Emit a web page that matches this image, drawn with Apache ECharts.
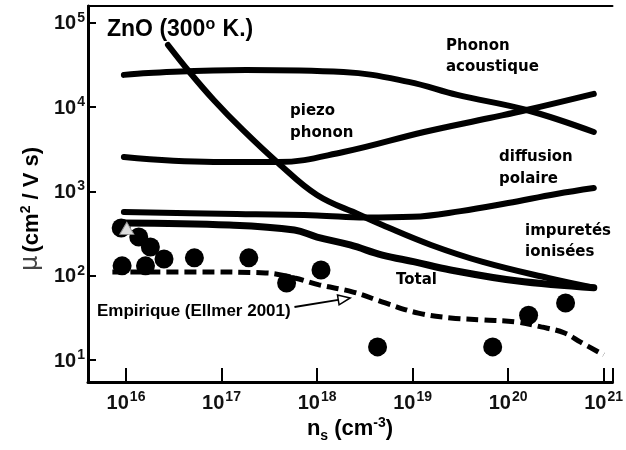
<!DOCTYPE html>
<html><head><meta charset="utf-8">
<script src="https://cdn.jsdelivr.net/npm/echarts@6/dist/echarts.min.js"></script>
<style>html,body{margin:0;padding:0;background:#fff}#c{width:626px;height:450px}</style>
</head><body><div id="c"></div>
<script>
// ---- data (n_s in cm^-3, mobility in cm2/Vs) ----
const nsAcoustic = [9.5e15, 1.72e16, 1.8e17, 1.89e18, 9.1e18, 2.94e19, 1.56e20, 7.9e20];
const muAcoustic = [24200, 25500, 27700, 26200, 20000, 14000, 9270, 5080];

const nsPiezo = [9.5e15, 8.3e16, 3.9e17, 1.89e18, 1.32e19, 6.4e19, 1.56e20, 7.9e20];
const muPiezo = [2560, 2240, 2240, 2940, 5080, 7450, 9270, 14400];

const nsPolar = [9.5e15, 1e17, 1e18, 3.2e18, 1e19, 3.2e19, 1e20, 3.2e20, 7.9e20];
const muPolar = [571, 545, 520, 490, 500, 585, 730, 935, 1100];

const nsIonized = [2.75e16, 4.71e16, 8.28e16, 1.67e17, 3.91e17, 1e18, 2.81e18, 4.83e18, 1.56e19, 5.43e19, 2.62e20, 7.9e20];
const muIonized = [54800, 25500, 12200, 5370, 2180, 908, 526, 400, 232, 146, 94, 72];

const nsTotal = [9.5e15, 1.21e17, 5.8e17, 1e18, 2.22e18, 4.83e18, 1.05e19, 2.5e19, 1.21e20, 7.9e20];
const muTotal = [423, 400, 349, 288, 232, 176, 146, 117, 87, 72];

const nsEmpirical = [7.2e15, 5.56e16, 2.88e17, 5.8e17, 1.05e18, 2.39e18, 5.18e18, 1.15e19, 2.5e19, 5.43e19, 1.21e20, 2.22e20, 3.91e20, 5.69e20, 1e21];
const muEmpirical = [111, 111, 108, 94, 78, 64, 47.5, 36, 31.6, 29.9, 28.2, 24.7, 20.9, 16.4, 11.5];

const nsMeasured = [8.9e15, 1.36e16, 1.8e16, 2.5e16, 9.1e15, 1.6e16, 5.2e16, 1.93e17, 4.8e17, 1.1e18, 4.3e18, 6.9e19, 1.64e20, 4.0e20];
const muMeasured = [369, 288, 219, 158, 131, 131, 163, 163, 82, 117, 14.3, 14.3, 34, 47.5];

const nsTriangle = [1.02e16];
const muTriangle = [365];

// arrow annotation (data coordinates): tail -> head
const arrowNs = [5.8e17, 2.22e18];
const arrowMu = [42.6, 54.5];

const xMin = 4.0e15, xMax = 1.24e21, yMin = 5.48, yMax = 1.59e5;

function pairs(xs, ys) { return xs.map((x, i) => [x, ys[i]]); }
function expLabel(v) {
  const l = Math.log10(v), r = Math.round(l);
  if (Math.abs(l - r) > 1e-6) return '';
  return '{a|10}{b|' + r + '}';
}
const LF = 'Liberation Sans';
const rich = {
  a: { fontSize: 20, fontWeight: 'bold', fontFamily: LF, color: '#111', verticalAlign: 'bottom', lineHeight: 22 },
  b: { fontSize: 14, fontWeight: 'bold', fontFamily: LF, color: '#111', verticalAlign: 'bottom', padding: [0, 0, 9, 1], lineHeight: 22 }
};
function curve(name, xs, ys, w) {
  return { name, type: 'line', data: pairs(xs, ys), showSymbol: false, smooth: 0.4,
    lineStyle: { color: '#000', width: w, cap: 'round' }, z: 3 };
}
const chart = echarts.init(document.getElementById('c'));
chart.setOption({
  animation: false,
  backgroundColor: '#fff',
  grid: { left: 88, right: 0, top: 6, bottom: 68 },
  xAxis: [{
    type: 'log', logBase: 10, min: xMin, max: xMax, position: 'bottom',
    axisLine: { lineStyle: { color: '#000', width: 3 } },
    axisTick: { inside: true, length: 14, lineStyle: { color: '#000', width: 2 } },
    splitLine: { show: false },
    axisLabel: { formatter: expLabel, rich, margin: 9, showMinLabel: true, showMaxLabel: true }
  }, {
    type: 'log', logBase: 10, min: xMin, max: xMax, position: 'top',
    axisLine: { lineStyle: { color: '#000', width: 2 } },
    axisTick: { show: false }, axisLabel: { show: false }, splitLine: { show: false }
  }],
  yAxis: {
    type: 'log', logBase: 10, min: yMin, max: yMax,
    axisLine: { lineStyle: { color: '#000', width: 3 } },
    axisTick: { inside: true, length: 8, lineStyle: { color: '#000', width: 2 } },
    splitLine: { show: false },
    axisLabel: { formatter: expLabel, rich, margin: 3 }
  },
  series: [
    curve('Phonon acoustique', nsAcoustic, muAcoustic, 6),
    curve('piezo phonon', nsPiezo, muPiezo, 6),
    curve('diffusion polaire', nsPolar, muPolar, 6),
    curve('impuretés ionisées', nsIonized, muIonized, 6),
    curve('Total', nsTotal, muTotal, 7),
    { name: 'Empirique (Ellmer 2001)', type: 'line', data: pairs(nsEmpirical, muEmpirical), showSymbol: false, smooth: 0.4,
      lineStyle: { color: '#000', width: 5, type: [12, 6], cap: 'butt' }, z: 3 },
    { name: 'mesures', type: 'scatter', data: pairs(nsMeasured, muMeasured), symbol: 'circle', symbolSize: 19,
      itemStyle: { color: '#000', opacity: 1 }, z: 4 },
    { name: 'triangle', type: 'scatter', data: pairs(nsTriangle, muTriangle), symbol: 'triangle', symbolSize: [14, 12],
      itemStyle: { color: '#ddd', borderColor: '#999', borderWidth: 1, opacity: 1 }, z: 5 }
  ]
});

const p0 = chart.convertToPixel({ xAxisIndex: 0, yAxisIndex: 0 }, [arrowNs[0], arrowMu[0]]);
const p1 = chart.convertToPixel({ xAxisIndex: 0, yAxisIndex: 0 }, [arrowNs[1], arrowMu[1]]);
const ang = Math.atan2(p1[1] - p0[1], p1[0] - p0[0]);
const hl = 12, hw = 5;
const bx = p1[0] - hl * Math.cos(ang), by = p1[1] - hl * Math.sin(ang);
const head = [p1, [bx + hw * Math.sin(ang), by - hw * Math.cos(ang)], [bx - hw * Math.sin(ang), by + hw * Math.cos(ang)]];

const DV = '"DejaVu Sans"';
function lbl(text, x, y, font) {
  return { type: 'text', x, y, z: 10, style: { text, font: font || ('bold 15px ' + DV), fill: '#000', align: 'left', verticalAlign: 'middle' } };
}
chart.setOption({
  graphic: [
    { type: 'polyline', z: 10, shape: { points: [p0, [bx, by]] }, style: { stroke: '#000', lineWidth: 2, fill: null } },
    { type: 'polygon', z: 10, shape: { points: head }, style: { stroke: '#000', lineWidth: 1.5, fill: '#fff' } },
    { type: 'text', x: 107, y: 28, z: 10, style: { text: '{t|ZnO (300}{s|o}{t| K.)}', align: 'left', verticalAlign: 'middle',
      rich: { t: { font: 'bold 23px ' + LF, fill: '#000', verticalAlign: 'bottom', lineHeight: 26 },
              s: { font: 'bold 16px ' + LF, fill: '#000', verticalAlign: 'bottom', lineHeight: 26, padding: [0, 1, 8, 0] } } } },
    lbl('Phonon', 446, 46), lbl('acoustique', 446, 67),
    lbl('piezo', 290, 111), lbl('phonon', 290, 133),
    lbl('diffusion', 499, 157), lbl('polaire', 499, 179),
    lbl('impuretés', 525, 231), lbl('ionisées', 525, 252),
    lbl('Total', 396, 280),
    lbl('Empirique (Ellmer 2001)', 97, 311, 'bold 17px ' + LF),
    { type: 'text', x: 350, y: 427, z: 10, style: { text: '{t|n}{u|s}{t| (cm}{s|-3}{t|)}', align: 'center', verticalAlign: 'middle',
      rich: { t: { font: 'bold 22px ' + LF, fill: '#000', verticalAlign: 'bottom', lineHeight: 26 },
              u: { font: 'bold 14px ' + LF, fill: '#000', verticalAlign: 'bottom', lineHeight: 26, padding: [0, 0, -3, 0] },
              s: { font: 'bold 14px ' + LF, fill: '#000', verticalAlign: 'bottom', lineHeight: 26, padding: [0, 0, 10, 0] } } } },
    { type: 'text', x: 30, y: 209, rotation: Math.PI / 2, z: 10, style: { text: '{m|μ} {t|(cm}{s|2}{t| / V s)}', align: 'center', verticalAlign: 'middle',
      rich: { m: { font: '24px ' + DV, fill: '#444', verticalAlign: 'bottom', lineHeight: 26 },
              t: { font: 'bold 22px ' + LF, fill: '#000', verticalAlign: 'bottom', lineHeight: 26 },
              s: { font: 'bold 14px ' + LF, fill: '#000', verticalAlign: 'bottom', lineHeight: 26, padding: [0, 0, 10, 0] } } } }
  ]
});
</script>
</body></html>
